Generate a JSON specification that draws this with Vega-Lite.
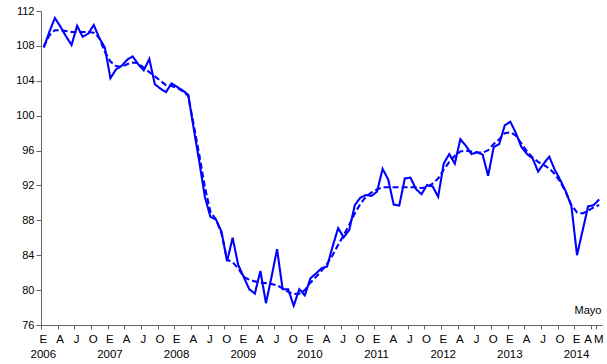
{
  "$schema": "https://vega.github.io/schema/vega-lite/v6.json",
  "autosize": "none",
  "width": 561,
  "height": 314,
  "padding": {"left": 41, "top": 11, "right": 5, "bottom": 39},
  "background": "white",
  "config": {
    "view": {"stroke": null},
    "font": "Liberation Sans",
    "axis": {"grid": false, "domainColor": "#666666", "tickColor": "#666666", "labelColor": "#000000", "labelFontSize": 11, "labelFont": "Liberation Sans", "title": null}
  },
  "data": {
    "values": [
      {"i": 0, "original": 107.8, "tendencia": 107.9},
      {"i": 1, "original": 109.6, "tendencia": 109.2},
      {"i": 2, "original": 111.2, "tendencia": 109.8},
      {"i": 3, "original": 110.2, "tendencia": 109.8},
      {"i": 4, "original": 109.1, "tendencia": 109.7},
      {"i": 5, "original": 108.1, "tendencia": 109.6},
      {"i": 6, "original": 110.3, "tendencia": 109.6},
      {"i": 7, "original": 109.05, "tendencia": 109.6},
      {"i": 8, "original": 109.4, "tendencia": 109.6},
      {"i": 9, "original": 110.4, "tendencia": 109.5},
      {"i": 10, "original": 108.9, "tendencia": 108.9},
      {"i": 11, "original": 107.8, "tendencia": 107.3},
      {"i": 12, "original": 104.3, "tendencia": 106.2},
      {"i": 13, "original": 105.3, "tendencia": 105.7},
      {"i": 14, "original": 105.7, "tendencia": 105.6},
      {"i": 15, "original": 106.4, "tendencia": 105.9},
      {"i": 16, "original": 106.8, "tendencia": 106.1},
      {"i": 17, "original": 105.9, "tendencia": 106.0},
      {"i": 18, "original": 105.2, "tendencia": 105.5},
      {"i": 19, "original": 106.5, "tendencia": 105.0},
      {"i": 20, "original": 103.6, "tendencia": 104.5},
      {"i": 21, "original": 103.1, "tendencia": 104.0},
      {"i": 22, "original": 102.7, "tendencia": 103.5},
      {"i": 23, "original": 103.7, "tendencia": 103.4},
      {"i": 24, "original": 103.3, "tendencia": 103.2},
      {"i": 25, "original": 102.9, "tendencia": 102.8},
      {"i": 26, "original": 102.4, "tendencia": 102.3},
      {"i": 27, "original": 98.5, "tendencia": 98.9},
      {"i": 28, "original": 94.7, "tendencia": 95.5},
      {"i": 29, "original": 90.7, "tendencia": 91.8},
      {"i": 30, "original": 88.4, "tendencia": 89.0},
      {"i": 31, "original": 88.1, "tendencia": 88.1},
      {"i": 32, "original": 86.7, "tendencia": 86.5},
      {"i": 33, "original": 83.3, "tendencia": 83.5},
      {"i": 34, "original": 86.0, "tendencia": 83.2},
      {"i": 35, "original": 82.9, "tendencia": 82.5},
      {"i": 36, "original": 81.5, "tendencia": 81.5},
      {"i": 37, "original": 80.1, "tendencia": 81.2},
      {"i": 38, "original": 79.6, "tendencia": 81.0},
      {"i": 39, "original": 82.2, "tendencia": 80.85},
      {"i": 40, "original": 78.5, "tendencia": 80.8},
      {"i": 41, "original": 81.5, "tendencia": 80.7},
      {"i": 42, "original": 84.7, "tendencia": 80.55},
      {"i": 43, "original": 80.1, "tendencia": 80.2},
      {"i": 44, "original": 80.1, "tendencia": 79.8},
      {"i": 45, "original": 78.2, "tendencia": 79.55},
      {"i": 46, "original": 80.1, "tendencia": 79.6},
      {"i": 47, "original": 79.4, "tendencia": 80.0},
      {"i": 48, "original": 81.35, "tendencia": 80.85},
      {"i": 49, "original": 81.9, "tendencia": 81.5},
      {"i": 50, "original": 82.5, "tendencia": 82.2},
      {"i": 51, "original": 82.7, "tendencia": 83.0},
      {"i": 52, "original": 85.0, "tendencia": 84.0},
      {"i": 53, "original": 87.1, "tendencia": 85.2},
      {"i": 54, "original": 86.05, "tendencia": 86.3},
      {"i": 55, "original": 86.9, "tendencia": 87.5},
      {"i": 56, "original": 89.75, "tendencia": 88.8},
      {"i": 57, "original": 90.6, "tendencia": 89.9},
      {"i": 58, "original": 90.9, "tendencia": 90.7},
      {"i": 59, "original": 90.8, "tendencia": 91.2},
      {"i": 60, "original": 91.3, "tendencia": 91.55},
      {"i": 61, "original": 93.9, "tendencia": 91.8},
      {"i": 62, "original": 92.7, "tendencia": 91.8},
      {"i": 63, "original": 89.8, "tendencia": 91.8},
      {"i": 64, "original": 89.7, "tendencia": 91.8},
      {"i": 65, "original": 92.8, "tendencia": 91.8},
      {"i": 66, "original": 92.9, "tendencia": 91.8},
      {"i": 67, "original": 91.6, "tendencia": 91.8},
      {"i": 68, "original": 91.0, "tendencia": 91.7},
      {"i": 69, "original": 92.05, "tendencia": 91.8},
      {"i": 70, "original": 91.9, "tendencia": 92.2},
      {"i": 71, "original": 90.7, "tendencia": 92.8},
      {"i": 72, "original": 94.5, "tendencia": 93.8},
      {"i": 73, "original": 95.6, "tendencia": 94.7},
      {"i": 74, "original": 94.5, "tendencia": 95.4},
      {"i": 75, "original": 97.3, "tendencia": 95.9},
      {"i": 76, "original": 96.55, "tendencia": 96.0},
      {"i": 77, "original": 95.6, "tendencia": 95.9},
      {"i": 78, "original": 95.8, "tendencia": 95.8},
      {"i": 79, "original": 95.55, "tendencia": 95.75},
      {"i": 80, "original": 93.1, "tendencia": 96.05},
      {"i": 81, "original": 96.4, "tendencia": 96.75},
      {"i": 82, "original": 96.75, "tendencia": 97.3},
      {"i": 83, "original": 98.9, "tendencia": 98.0},
      {"i": 84, "original": 99.3, "tendencia": 98.1},
      {"i": 85, "original": 98.0, "tendencia": 97.7},
      {"i": 86, "original": 96.4, "tendencia": 96.8},
      {"i": 87, "original": 95.6, "tendencia": 95.9},
      {"i": 88, "original": 95.1, "tendencia": 95.2},
      {"i": 89, "original": 93.6, "tendencia": 94.7},
      {"i": 90, "original": 94.5, "tendencia": 94.35},
      {"i": 91, "original": 95.3, "tendencia": 93.95},
      {"i": 92, "original": 93.8, "tendencia": 93.3},
      {"i": 93, "original": 92.6, "tendencia": 92.4},
      {"i": 94, "original": 91.3, "tendencia": 91.2},
      {"i": 95, "original": 89.6, "tendencia": 89.75},
      {"i": 96, "original": 84.0, "tendencia": 88.9},
      {"i": 97, "original": 86.8, "tendencia": 88.8},
      {"i": 98, "original": 89.6, "tendencia": 89.1},
      {"i": 99, "original": 89.75, "tendencia": 89.5},
      {"i": 100, "original": 90.4, "tendencia": 89.75}
    ]
  },
  "encoding": {
    "x": {
      "field": "i",
      "type": "quantitative",
      "scale": {"domain": [-0.5, 100.5], "nice": false, "zero": false},
      "axis": {
        "values": [0, 3, 6, 9, 12, 15, 18, 21, 24, 27, 30, 33, 36, 39, 42, 45, 48, 51, 54, 57, 60, 63, 66, 69, 72, 75, 78, 81, 84, 87, 90, 93, 96, 99, 100],
        "labelExpr": "datum.value % 12 == 0 ? ['E', '' + (2006 + datum.value / 12)] : datum.value == 100 ? 'M' : datum.value % 12 == 3 ? 'A' : datum.value % 12 == 6 ? 'J' : 'O'",
        "tickOffset": -2.78,
        "labelOffset": {"condition": {"test": "datum.value == 99", "value": -3.2}, "value": 1.8},
        "tickSize": 4,
        "labelPadding": 4,
        "labelLineHeight": 15,
        "labelFontSize": 11.5,
        "labelOverlap": false,
        "labelFlush": false,
        "labelBound": false
      }
    },
    "y": {
      "field": "valor",
      "type": "quantitative",
      "scale": {"domain": [76, 112], "nice": false, "zero": false},
      "axis": {
        "values": [76, 80, 84, 88, 92, 96, 100, 104, 108, 112],
        "tickSize": 5,
        "labelPadding": 2,
        "labelOverlap": false,
        "labelFlush": false,
        "labelBound": false
      }
    }
  },
  "layer": [
    {
      "transform": [{"fold": ["tendencia", "original"], "as": ["serie", "valor"]}],
      "mark": {"type": "line", "color": "#0000FF", "strokeWidth": 2.1},
      "encoding": {
        "strokeDash": {
          "field": "serie",
          "type": "nominal",
          "scale": {"domain": ["original", "tendencia"], "range": [[1, 0], [6, 3]]},
          "legend": null
        },
        "order": {"field": "i", "type": "quantitative"}
      }
    },
    {
      "data": {"values": [{"i": 100.4, "valor": 77.0, "t": "Mayo"}]},
      "mark": {"type": "text", "align": "right", "baseline": "bottom", "fontSize": 11, "color": "#000000"},
      "encoding": {
        "text": {"field": "t"}
      }
    }
  ]
}
